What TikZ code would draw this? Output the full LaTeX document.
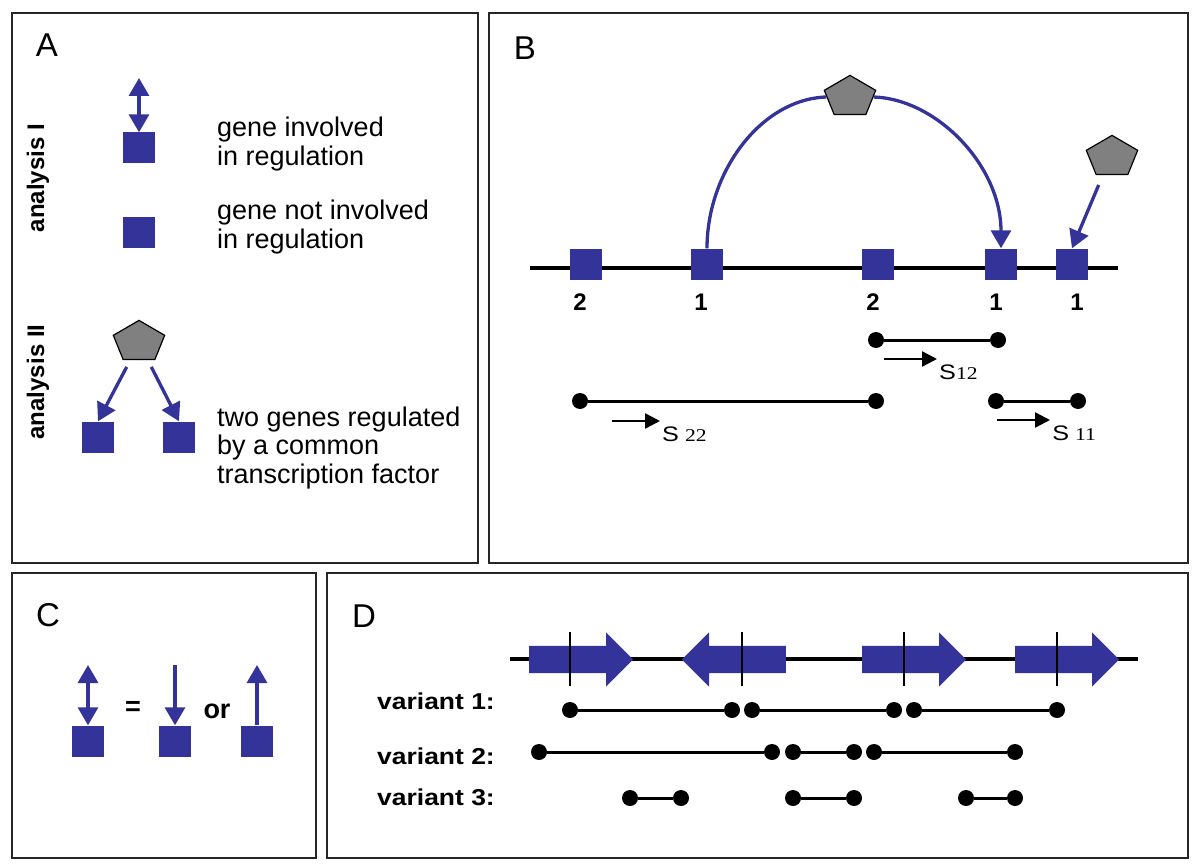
\documentclass[tikz,border=0pt]{standalone}
\usepackage{fontspec}
\setmainfont{Liberation Sans}
\newfontfamily\subfont{Liberation Serif}
\usetikzlibrary{arrows.meta,shapes.geometric,shapes.arrows}
\definecolor{geneblue}{RGB}{51,51,153}
\definecolor{tfgrey}{RGB}{128,128,128}

\begin{document}
\begin{tikzpicture}[
    x=1pt, y=-1pt,
    every node/.style={inner sep=0pt},
    panel/.style={draw=black!85, line width=2pt},
    letter/.style={font=\fontsize{33}{36}\selectfont},
    legend/.style={font=\fontsize{27}{28.5}\selectfont, align=left, anchor=west},
    side/.style={font=\bfseries\fontsize{24}{26}\selectfont, rotate=90},
    num/.style={font=\bfseries\fontsize{24}{26}\selectfont},
    vlabel/.style={font=\bfseries\fontsize{23}{25}\selectfont, xscale=1.15, anchor=base west},
    gene/.style={fill=geneblue, minimum width=32pt, minimum height=31pt},
    tf/.style={regular polygon, regular polygon sides=5, minimum size=54pt, yscale=0.8, fill=tfgrey, draw=black, line width=1.2pt},
    reg/.style={draw=geneblue, line width=3.3pt, -{Triangle[length=18pt,width=20pt]}},
    regboth/.style={draw=geneblue, line width=3.3pt, {Triangle[length=18pt,width=20pt]}-{Triangle[length=18pt,width=20pt]}},
    regline/.style={draw=geneblue, line width=3.3pt},
    backbone/.style={line width=4pt},
    dot/.style={circle, fill=black, minimum size=16pt},
    span/.style={line width=3pt},
    sarrow/.style={line width=2.5pt, shorten >=2pt, -{Triangle[length=15pt,width=15pt]}},
    sname/.style={anchor=base west, xscale=1.2, font=\fontsize{21}{23}\selectfont},
    genearrow/.style={single arrow, fill=geneblue, minimum height=104pt, inner ysep=13.5pt, single arrow head extend=13.5pt, anchor=tail},
    tick/.style={line width=2pt}
]
\useasboundingbox (0,0) rectangle (1200,864);

% panels
\draw [panel] (12,13) rectangle (478,563);
\draw [panel] (489,13) rectangle (1188,563);
\draw [panel] (12,573) rectangle (316,858);
\draw [panel] (327,573) rectangle (1188,858);

%%% A
\node [letter] (labA) at (47,45) {A};
\node [side] (anaI) at (38,178) {analysis I};
\node [side] (anaII) at (38,382) {analysis II};

\coordinate (upA) at (139,78);
\node [gene] (sqA1) at (139,148) {};
\draw [regboth] (upA) -- (sqA1.north);
\node [legend] (txtA1) at (217,144) {gene involved\\in regulation};

\node [gene] (sqA2) at (139,232) {};
\node [legend] (txtA2) at (217,227) {gene not involved\\in regulation};

\node [tf] (tfA) at (139,342) {};
\node [gene] (sqL) at (98,437) {};
\node [gene] (sqR) at (179,437) {};
\draw [reg] ([shift={(4,7)}]tfA.corner 3) -- (sqL.north);
\draw [reg] ([shift={(-4,7)}]tfA.corner 4) -- (sqR.north);
\node [legend] (txtA3) at (217,448) {two genes regulated\\by a common\\transcription factor};

%%% B
\node [letter] (labB) at (525,48) {B};
\coordinate (bL) at (530,268);
\coordinate (bR) at (1118,268);
\draw [backbone] (bL) -- (bR);

\node [gene] (sqB1) at (586,264) {};
\node [gene] (sqB2) at (707,264) {};
\node [gene] (sqB3) at (878,264) {};
\node [gene] (sqB4) at (1001,264) {};
\node [gene] (sqB5) at (1072,264) {};

\node [num] at (580,302) {2};
\node [num] at (701,302) {1};
\node [num] at (873,302) {2};
\node [num] at (996,302) {1};
\node [num] at (1077,302) {1};

\node [tf] (tfB) at (850,97) {};
\draw [regline] (sqB2.north) .. controls (707,172) and (761,99) .. (tfB.west);
\draw [reg] (tfB.east) .. controls (937,99) and (1001,166) .. (sqB4.north);

\node [tf] (tfB2) at (1112,157) {};
\draw [reg] ([shift={(3,10)}]tfB2.corner 3) -- (sqB5.north);

% spacings
\node [dot] (d12a) at (876,340) {};
\node [dot] (d12b) at (998,340) {};
\draw [span] (d12a) -- (d12b);
\node [sname] (s12) at (939,379) {S{\subfont\fontsize{18}{19}\selectfont 12}};
\coordinate (a12) at (884,359);
\draw [sarrow] (a12) -- (a12 -| s12.west);

\node [dot] (d22a) at (580,401) {};
\node [dot] (d22b) at (876,401) {};
\draw [span] (d22a) -- (d22b);
\node [sname] (s22) at (662,441) {S\hspace{5pt}{\subfont\fontsize{18}{19}\selectfont 22}};
\coordinate (a22) at (612,421);
\draw [sarrow] (a22) -- (a22 -| s22.west);

\node [dot] (d11a) at (996,401) {};
\node [dot] (d11b) at (1078,401) {};
\draw [span] (d11a) -- (d11b);
\node [sname] (s11) at (1052,440) {S\hspace{5pt}{\subfont\fontsize{18}{19}\selectfont 11}};
\coordinate (a11) at (997,420);
\draw [sarrow] (a11) -- (a11 -| s11.west);

%%% C
\node [letter] (labC) at (48,615) {C};
\node [gene] (sqC1) at (88,741) {};
\node [gene] (sqC2) at (175,741) {};
\node [gene] (sqC3) at (257,741) {};
\coordinate (upC1) at (88,665);
\coordinate (upC2) at (175,665);
\coordinate (upC3) at (257,665);
\draw [regboth] (upC1) -- (sqC1.north);
\draw [reg] (upC2) -- (sqC2.north);
\draw [reg] (sqC3.north) -- (upC3);
\node [num, font=\bfseries\fontsize{27}{29}\selectfont] (eq) at (133,708) {=};
\node [num, font=\bfseries\fontsize{27}{29}\selectfont] (or) at (217,711) {or};

%%% D
\node [letter] (labD) at (364,616) {D};
\coordinate (dL) at (510,659);
\coordinate (dR) at (1138,659);
\draw [backbone] (dL) -- (dR);

\node [genearrow] (g1) at (529,659.5) {};
\node [genearrow, shape border rotate=180] (g2) at (786,659.5) {};
\node [genearrow] (g3) at (862,659.5) {};
\node [genearrow] (g4) at (1015,659.5) {};

\draw [tick] (570,632) -- (570,686);
\draw [tick] (742,632) -- (742,686);
\draw [tick] (904,632) -- (904,686);
\draw [tick] (1057,632) -- (1057,686);

\node [vlabel] (v1) at (377,709) {variant 1:};
\node [vlabel] (v2) at (377,764) {variant 2:};
\node [vlabel] (v3) at (377,805) {variant 3:};

% variant 1
\node [dot] (v1a) at (570,710) {};
\node [dot] (v1b) at (732,710) {};
\node [dot] (v1c) at (752,710) {};
\node [dot] (v1d) at (894,710) {};
\node [dot] (v1e) at (914,710) {};
\node [dot] (v1f) at (1057,710) {};
\draw [span] (v1a) -- (v1b);
\draw [span] (v1c) -- (v1d);
\draw [span] (v1e) -- (v1f);

% variant 2
\node [dot] (v2a) at (539,752) {};
\node [dot] (v2b) at (772,752) {};
\node [dot] (v2c) at (793,752) {};
\node [dot] (v2d) at (854,752) {};
\node [dot] (v2e) at (874,752) {};
\node [dot] (v2f) at (1015,752) {};
\draw [span] (v2a) -- (v2b);
\draw [span] (v2c) -- (v2d);
\draw [span] (v2e) -- (v2f);

% variant 3
\node [dot] (v3a) at (630,798) {};
\node [dot] (v3b) at (681,798) {};
\node [dot] (v3c) at (793,798) {};
\node [dot] (v3d) at (854,798) {};
\node [dot] (v3e) at (966,798) {};
\node [dot] (v3f) at (1015,798) {};
\draw [span] (v3a) -- (v3b);
\draw [span] (v3c) -- (v3d);
\draw [span] (v3e) -- (v3f);

\end{tikzpicture}
\end{document}
